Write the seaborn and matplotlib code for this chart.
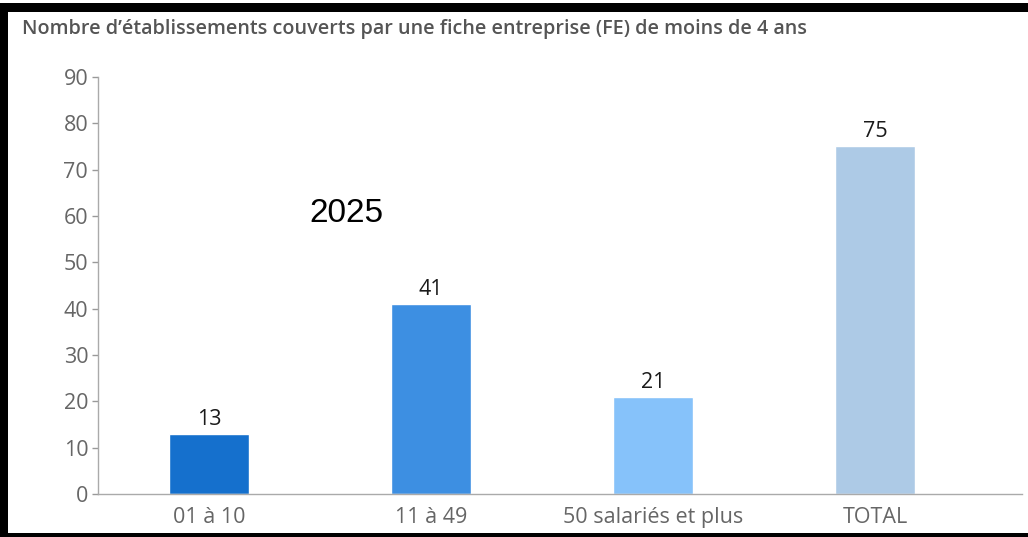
import matplotlib
matplotlib.use("Agg")
import matplotlib.pyplot as plt
import pandas as pd
import seaborn as sns
from matplotlib.patches import Rectangle

# Chart data
categories = ["01 à 10", "11 à 49", "50 salariés et plus", "TOTAL"]
counts = [13, 41, 21, 75]
bar_colors = ["#1570CD", "#3D8FE2", "#86C2FA", "#ADCAE6"]
y_ticks = [0, 10, 20, 30, 40, 50, 60, 70, 80, 90]
title = "Nombre d\u2019établissements couverts par une fiche entreprise (FE) de moins de 4 ans"
year_label = "2025"

sns.set_style("white")
plt.rcParams["font.family"] = ["Open Sans", "DejaVu Sans"]

df = pd.DataFrame({"categorie": categories, "nombre": counts})

fig = plt.figure(figsize=(10.28, 5.37), dpi=100)
ax = fig.add_axes([0.0953, 0.080, 0.8987, 0.777])

sns.barplot(
    data=df,
    x="categorie",
    y="nombre",
    hue="categorie",
    palette=bar_colors,
    dodge=False,
    legend=False,
    width=0.36,
    saturation=1,
    ax=ax,
)

for container in ax.containers:
    ax.bar_label(container, padding=3, fontsize=15.5, color="#1a1a1a")

ax.set_ylim(0, 90)
ax.set_xlim(-0.5, 3.66)
ax.set_yticks(y_ticks)
ax.set_xlabel("")
ax.set_ylabel("")
ax.tick_params(axis="y", length=4, width=1, color="#999999", labelcolor="#666666",
               labelsize=15.5, pad=3, left=True)
ax.tick_params(axis="x", length=0, labelcolor="#666666", labelsize=15.5, pad=9)

for side in ["top", "right"]:
    ax.spines[side].set_visible(False)
for side in ["left", "bottom"]:
    ax.spines[side].set_color("#aaaaaa")
    ax.spines[side].set_linewidth(1)

# Title and year annotation
fig.text(22 / 1028, 1 - 29 / 537, title, fontsize=14.2, fontweight="semibold",
         color="#555555", va="center", ha="left")
ax.text(0.62, 60.6, year_label, fontsize=24, color="black", family="Liberation Sans",
        ha="center", va="center")

# Black frame around the screenshot
fig.patches.append(Rectangle((0, 1 - 12 / 537), 1, 9 / 537, transform=fig.transFigure,
                             facecolor="black", edgecolor="none"))
fig.patches.append(Rectangle((0, 0), 8 / 1028, 1 - 3 / 537, transform=fig.transFigure,
                             facecolor="black", edgecolor="none"))
fig.patches.append(Rectangle((0, 0), 1, 4 / 537, transform=fig.transFigure,
                             facecolor="black", edgecolor="none"))

fig.savefig("out.png", dpi=100)
